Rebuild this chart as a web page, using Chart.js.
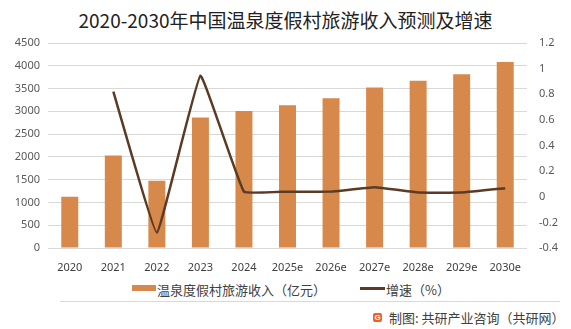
<!DOCTYPE html>
<html>
<head>
<meta charset="utf-8">
<script src="https://cdn.jsdelivr.net/npm/chart.js@4"></script>
<style>
    html, body { margin: 0; padding: 0; background: #fff; }
    body { width: 571px; height: 329px; position: relative; overflow: hidden;
           font-family: "Noto Sans CJK SC", "Noto Sans", sans-serif; color: #404040; }
    #title { position: absolute; left: 0; width: 571px; top: 6px; text-align: center;
             font-size: 19px; color: #222; white-space: nowrap; }
    #chartBox { position: absolute; left: 0; top: 0; width: 571px; height: 280px; }
    .legend { position: absolute; top: 280px; font-size: 13px; color: #404040; white-space: nowrap; }
    .swatch { position: absolute; }
    #sep { position: absolute; left: 60px; width: 500px; top: 301px; height: 1px; background: #d9d9d9; }
    #footer { position: absolute; left: 389px; top: 308px; font-size: 13px; color: #404040; white-space: nowrap; }
    #logo { position: absolute; left: 373px; top: 313px; width: 9px; height: 9px; background: #e8632b;
            border-radius: 2px; color: #fff; font: bold 8px sans-serif; line-height: 9px; text-align: center; }
</style>
</head>
<body>

<div id="title">2020-2030年中国温泉度假村旅游收入预测及增速</div>

<div id="chartBox"><canvas id="chart" width="571" height="280"></canvas></div>

<div class="swatch" style="left:132px; top:285px; width:24px; height:6px; background:#d6894b;"></div>
<div class="legend" style="left:157px;">温泉度假村旅游收入（亿元）</div>
<div class="swatch" style="left:360px; top:287px; width:25px; height:2.5px; background:#5b3b25;"></div>
<div class="legend" style="left:386px;">增速（%）</div>

<div id="sep"></div>
<div id="logo">G</div>
<div id="footer">制图: 共研产业咨询（共研网）</div>

<script>
/* =====================================================
   DATA
===================================================== */

const years = ["2020", "2021", "2022", "2023", "2024", "2025e", "2026e", "2027e", "2028e", "2029e", "2030e"];
const revenue = [1125, 2030, 1475, 2865, 3005, 3135, 3285, 3525, 3670, 3815, 4085];
const growth = [null, 0.82, -0.28, 0.945, 0.04, 0.04, 0.04, 0.074, 0.033, 0.033, 0.066];

const leftTicks = [0, 500, 1000, 1500, 2000, 2500, 3000, 3500, 4000, 4500];
const rightTicks = [-0.4, -0.2, 0, 0.2, 0.4, 0.6, 0.8, 1, 1.2];

/* =====================================================
   CHART
===================================================== */

const tickFont = { family: "'Noto Sans', 'DejaVu Sans', sans-serif", size: 11 };

const ctx = document.getElementById("chart").getContext("2d");

new Chart(ctx, {
    data: {
        labels: years,
        datasets: [
            {
                type: "line",
                label: "增速（%）",
                data: growth,
                yAxisID: "yRight",
                borderColor: "#5b3b25",
                borderWidth: 2.5,
                pointRadius: 0,
                tension: 0.08,
                order: 0
            },
            {
                type: "bar",
                label: "温泉度假村旅游收入（亿元）",
                data: revenue,
                yAxisID: "yLeft",
                backgroundColor: "#d6894b",
                categoryPercentage: 1,
                barPercentage: 0.39,
                order: 1
            }
        ]
    },
    options: {
        responsive: false,
        animation: false,
        layout: { padding: { top: 43, left: 0, right: 0, bottom: 0 } },
        plugins: {
            legend: { display: false },
            tooltip: { enabled: false }
        },
        scales: {
            x: {
                grid: { display: false, drawTicks: false },
                border: { display: false },
                ticks: { color: "#404040", font: tickFont, padding: 13, maxRotation: 0 },
                afterFit: s => { s.height = 32; }
            },
            yLeft: {
                position: "left",
                min: 0,
                max: 4500,
                afterBuildTicks: s => { s.ticks = leftTicks.map(v => ({ value: v })); },
                grid: { color: "#d9d9d9", lineWidth: 1, drawTicks: false },
                border: { display: false },
                ticks: { color: "#595959", font: tickFont, padding: 8, callback: v => String(v) },
                afterFit: s => { s.width = 48; }
            },
            yRight: {
                position: "right",
                min: -0.4,
                max: 1.2,
                afterBuildTicks: s => { s.ticks = rightTicks.map(v => ({ value: v })); },
                grid: { display: false, drawTicks: false },
                border: { display: false },
                ticks: {
                    color: "#595959",
                    font: tickFont,
                    padding: 12,
                    callback: v => String(Math.round(v * 10) / 10)
                },
                afterFit: s => { s.width = 44; }
            }
        }
    }
});
</script>
</body>
</html>
